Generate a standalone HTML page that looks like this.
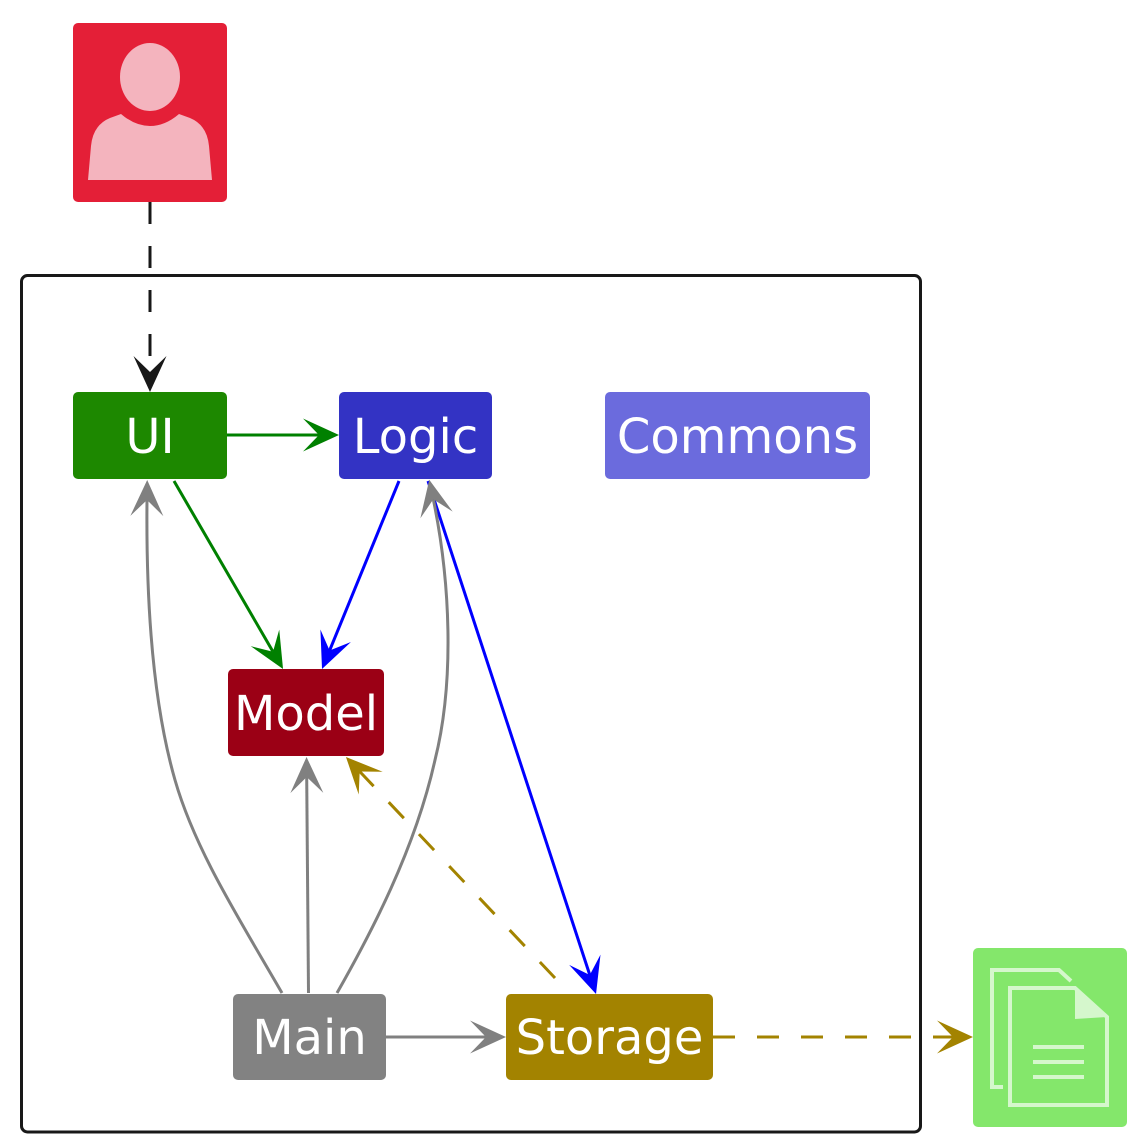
<!DOCTYPE html>
<html>
<head>
<meta charset="utf-8">
<style>
  html, body { margin: 0; padding: 0; background: #ffffff; }
  body { width: 1143px; height: 1148px; overflow: hidden; }
  svg { display: block; }
  text { font-family: "DejaVu Sans", "Liberation Sans", sans-serif; font-size: 48px; fill: #ffffff; text-anchor: middle; }
</style>
</head>
<body>
<svg width="1143" height="1148" viewBox="0 0 1143 1148" xmlns="http://www.w3.org/2000/svg">
  <defs>
    <marker id="mk" viewBox="-20 -20 44 40" refX="0" refY="0" markerWidth="44" markerHeight="40" markerUnits="userSpaceOnUse" orient="auto" overflow="visible">
      <path d="M20,0 L-16,-16.5 L0,0 L-16,16.5 Z" fill="#181818"/>
    </marker>
    <marker id="mg" viewBox="-20 -20 44 40" refX="0" refY="0" markerWidth="44" markerHeight="40" markerUnits="userSpaceOnUse" orient="auto" overflow="visible">
      <path d="M20,0 L-16,-16.5 L0,0 L-16,16.5 Z" fill="#008000"/>
    </marker>
    <marker id="mb" viewBox="-20 -20 44 40" refX="0" refY="0" markerWidth="44" markerHeight="40" markerUnits="userSpaceOnUse" orient="auto" overflow="visible">
      <path d="M20,0 L-16,-16.5 L0,0 L-16,16.5 Z" fill="#0000FF"/>
    </marker>
    <marker id="mgr" viewBox="-20 -20 44 40" refX="0" refY="0" markerWidth="44" markerHeight="40" markerUnits="userSpaceOnUse" orient="auto" overflow="visible">
      <path d="M20,0 L-16,-16.5 L0,0 L-16,16.5 Z" fill="#808080"/>
    </marker>
    <marker id="my" viewBox="-20 -20 44 40" refX="0" refY="0" markerWidth="44" markerHeight="40" markerUnits="userSpaceOnUse" orient="auto" overflow="visible">
      <path d="M20,0 L-16,-16.5 L0,0 L-16,16.5 Z" fill="#A38300"/>
    </marker>
  </defs>

  <!-- Container -->
  <rect x="21.5" y="275.5" width="899" height="856.5" rx="6" ry="6" fill="none" stroke="#181818" stroke-width="3"/>

  <!-- Actor icon -->
  <rect x="73" y="23" width="154" height="179" rx="5" ry="5" fill="#E41F37"/>
  <ellipse cx="150" cy="77" rx="30" ry="34" fill="#F4B4BE"/>
  <path d="M88,180 L91,146 Q93,125 110,118 L121,114 Q135,126 150,126 Q165,126 179,114 L190,118 Q207,125 209,146 L212,180 Z" fill="#F4B4BE"/>

  <!-- File icon -->
  <rect x="973" y="948" width="154" height="179" rx="5" ry="5" fill="#84E76B"/>
  <path d="M1003,1087 L992,1087 L992,970 L1059,970 L1071,981" fill="none" stroke="#D5F7CC" stroke-width="4"/>
  <path d="M1010,988 L1075,988 L1107,1017 L1107,1105 L1010,1105 Z" fill="none" stroke="#D5F7CC" stroke-width="4"/>
  <path d="M1075,988 L1107,1017 L1075,1019 Z" fill="#D5F7CC"/>
  <line x1="1033" y1="1047" x2="1084" y2="1047" stroke="#D5F7CC" stroke-width="4"/>
  <line x1="1033" y1="1062" x2="1084" y2="1062" stroke="#D5F7CC" stroke-width="4"/>
  <line x1="1033" y1="1077" x2="1084" y2="1077" stroke="#D5F7CC" stroke-width="4"/>

  <!-- Nodes -->
  <rect x="73" y="392" width="154" height="87" rx="5" ry="5" fill="#1D8800"/>
  <text x="150" y="453">UI</text>

  <rect x="339" y="392" width="153" height="87" rx="5" ry="5" fill="#3333C4"/>
  <text x="415.5" y="453">Logic</text>

  <rect x="605" y="392" width="265" height="87" rx="5" ry="5" fill="#6B6BDD"/>
  <text x="737.5" y="453">Commons</text>

  <rect x="228" y="669" width="156" height="87" rx="5" ry="5" fill="#9B0015"/>
  <text x="306" y="730">Model</text>

  <rect x="233" y="994" width="153" height="86" rx="5" ry="5" fill="#828282"/>
  <text x="309.5" y="1054">Main</text>

  <rect x="506" y="994" width="207" height="86" rx="5" ry="5" fill="#A38300"/>
  <text x="609.5" y="1054">Storage</text>

  <!-- Edges -->
  <!-- Actor -> UI (dashed black) -->
  <path d="M150,202 L150,372" fill="none" stroke="#181818" stroke-width="3" stroke-dasharray="22 22" marker-end="url(#mk)"/>

  <!-- UI -> Logic -->
  <path d="M227,435 L319,435" fill="none" stroke="#008000" stroke-width="3" marker-end="url(#mg)"/>

  <!-- UI -> Model -->
  <path d="M174,481 L273,651.7" fill="none" stroke="#008000" stroke-width="3" marker-end="url(#mg)"/>

  <!-- Logic -> Model -->
  <path d="M399,481 L329.6,650.5" fill="none" stroke="#0000FF" stroke-width="3" marker-end="url(#mb)"/>

  <!-- Logic -> Storage -->
  <path d="M428,481 L589.8,975" fill="none" stroke="#0000FF" stroke-width="3" marker-end="url(#mb)"/>

  <!-- Main -> UI (curve) -->
  <path d="M282,993 C240,920 195,850 175,780 C152,700 146,600 147,500" fill="none" stroke="#808080" stroke-width="3" marker-end="url(#mgr)"/>

  <!-- Main -> Model -->
  <path d="M308.5,993 L306.7,777" fill="none" stroke="#808080" stroke-width="3" marker-end="url(#mgr)"/>

  <!-- Main -> Logic (curve) -->
  <path d="M337,993 C370,935 415,850 435,760 C455,680 450,580 433.3,499.3" fill="none" stroke="#808080" stroke-width="3" marker-end="url(#mgr)"/>

  <!-- Main -> Storage -->
  <path d="M386,1037 L486,1037" fill="none" stroke="#808080" stroke-width="3" marker-end="url(#mgr)"/>

  <!-- Storage -> Model (dashed) -->
  <path d="M555,978 L359.7,771.5" fill="none" stroke="#A38300" stroke-width="3" stroke-dasharray="22 22" marker-end="url(#my)"/>

  <!-- Storage -> File (dashed) -->
  <path d="M713,1037 L953,1037" fill="none" stroke="#A38300" stroke-width="3" stroke-dasharray="22 22" marker-end="url(#my)"/>
</svg>
</body>
</html>
